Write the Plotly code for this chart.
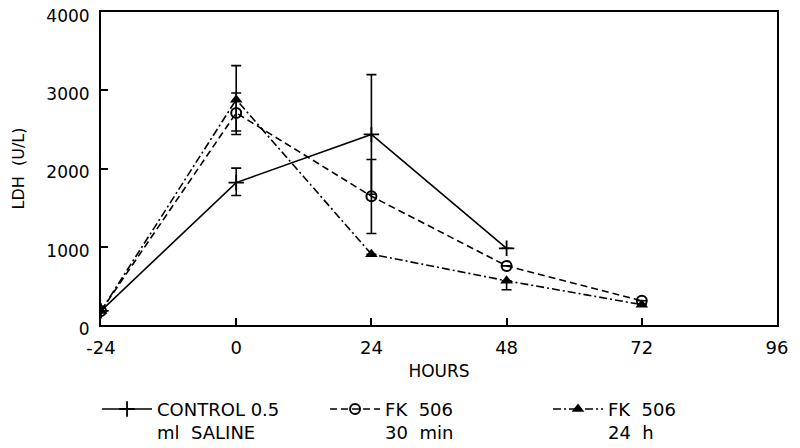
import plotly.graph_objects as go

control_hours = [-24, 0, 24, 48]
control_ldh = [180, 1820, 2435, 980]
control_err_plus = [0, 185, 765, 0]
control_err_minus = [0, 165, 765, 0]

fk30_hours = [-24, 0, 24, 48, 72]
fk30_ldh = [180, 2710, 1645, 755, 310]
fk30_err_plus = [0, 255, 470, 0, 0]
fk30_err_minus = [0, 275, 475, 0, 0]

fk24_hours = [-24, 0, 24, 48, 72]
fk24_ldh = [180, 2880, 905, 565, 260]
fk24_err_plus = [0, 435, 0, 0, 0]
fk24_err_minus = [0, 400, 0, 115, 0]

x_ticks = [-24, 0, 24, 48, 72, 96]
y_ticks = [0, 1000, 2000, 3000, 4000]

FONT = "DejaVu Sans"

fig = go.Figure()

fig.add_trace(go.Scatter(
    x=control_hours, y=control_ldh, mode="lines+markers",
    name="CONTROL 0.5<br>ml  SALINE", legend="legend",
    line=dict(color="black", width=1.6, dash="solid"),
    marker=dict(symbol="cross-thin", size=11, color="black",
                line=dict(color="black", width=1.8)),
    error_y=dict(type="data", array=control_err_plus, arrayminus=control_err_minus,
                 symmetric=False, color="black", thickness=1.6, width=5),
))

fig.add_trace(go.Scatter(
    x=fk30_hours, y=fk30_ldh, mode="lines+markers",
    name="FK  506<br>30  min", legend="legend2",
    line=dict(color="black", width=1.6, dash="7px,4px"),
    marker=dict(symbol="circle-open", size=10, color="black",
                line=dict(color="black", width=2)),
    error_y=dict(type="data", array=fk30_err_plus, arrayminus=fk30_err_minus,
                 symmetric=False, color="black", thickness=1.6, width=5),
))

fig.add_trace(go.Scatter(
    x=fk24_hours, y=fk24_ldh, mode="lines+markers",
    name="FK  506<br>24  h", legend="legend3",
    line=dict(color="black", width=1.6, dash="8px,3px,2px,3px"),
    marker=dict(symbol="triangle-up", size=11, color="black"),
    error_y=dict(type="data", array=fk24_err_plus, arrayminus=fk24_err_minus,
                 symmetric=False, color="black", thickness=1.6, width=5),
))


def legend_box(xpos):
    return dict(
        orientation="h", xref="container", x=xpos, xanchor="left",
        yref="container", y=0.13, yanchor="top", valign="top",
        font=dict(family=FONT, size=18, color="black"),
        itemwidth=50, tracegroupgap=0,
        bgcolor="rgba(0,0,0,0)", borderwidth=0,
    )


fig.update_layout(
    template="none",
    width=792, height=440,
    margin=dict(l=93, r=23, t=4, b=123, autoexpand=False),
    paper_bgcolor="white", plot_bgcolor="white",
    font=dict(family=FONT, size=18, color="black"),
    showlegend=True,
    legend=legend_box(0.1124),
    legend2=legend_box(0.4003),
    legend3=legend_box(0.6818),
)

fig.update_xaxes(
    range=[-24, 96], tickvals=x_ticks, ticktext=[str(v) for v in x_ticks],
    ticks="inside", ticklen=7, tickwidth=1.6, tickcolor="black",
    showline=True, linecolor="black", linewidth=2, mirror=True,
    showgrid=False, zeroline=False, automargin=False,
    ticklabelstandoff=5, ticklabeloverflow="allow",
    title=dict(text="HOURS", font=dict(family=FONT, size=17), standoff=9),
)
fig.update_yaxes(
    range=[0, 4000], tickvals=y_ticks, ticktext=[str(v) for v in y_ticks],
    ticks="inside", ticklen=7, tickwidth=1.6, tickcolor="black",
    showline=True, linecolor="black", linewidth=2, mirror=True,
    showgrid=False, zeroline=False, automargin=False,
    ticklabelstandoff=6, ticklabeloverflow="allow", ticklabelshift=4,
    tickfont=dict(family=FONT, size=17),
    title=dict(text="LDH  (U/L)", font=dict(family=FONT, size=16), standoff=18),
)

fig.write_html("out.html")
